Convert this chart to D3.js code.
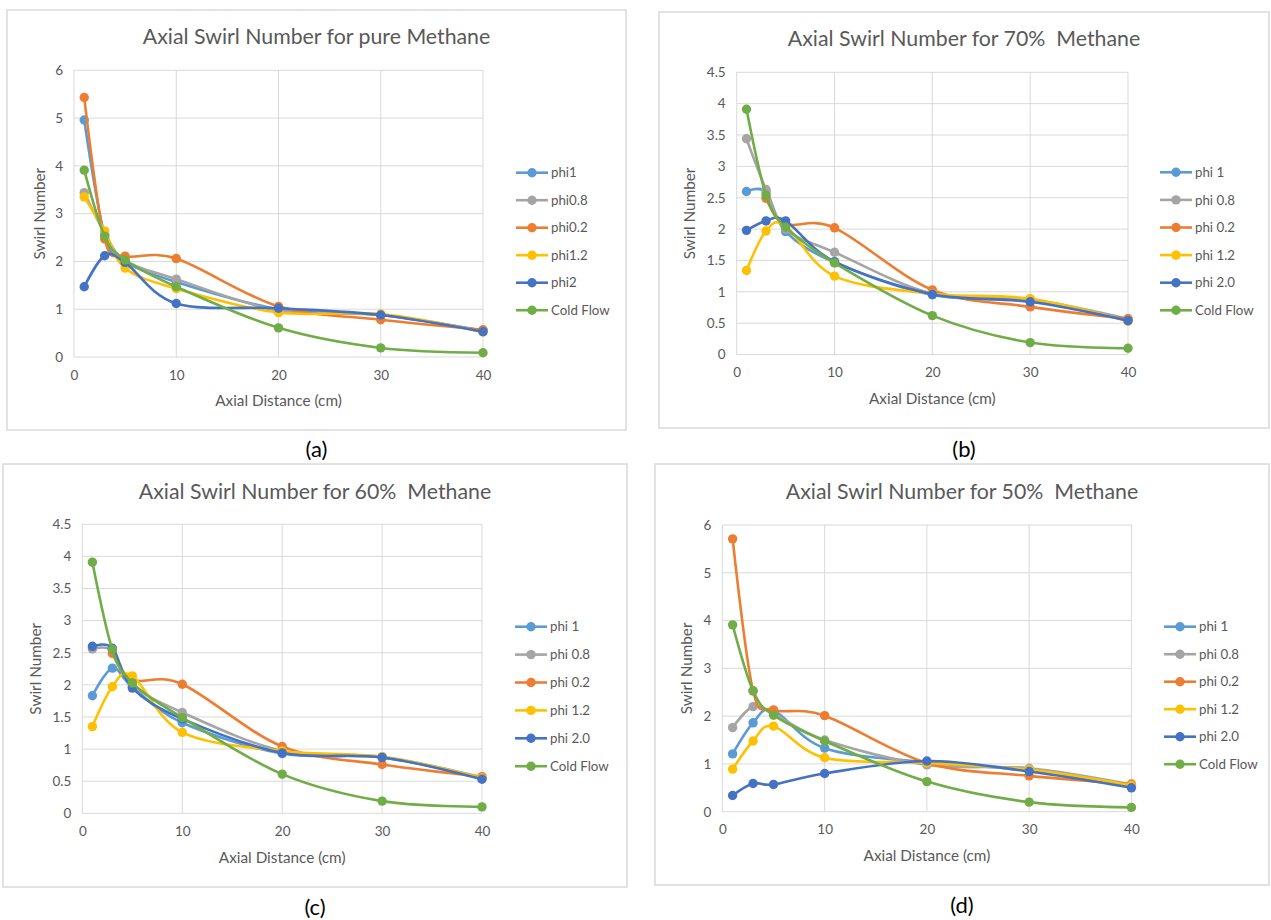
<!DOCTYPE html>
<html><head><meta charset="utf-8">
<script src="https://cdn.jsdelivr.net/npm/d3@7"></script>
<style>
body{margin:0;background:#fff}
svg{display:block}
text{font-family:Lato,"Open Sans",sans-serif;white-space:pre}
</style>
</head><body>
<svg id="chart" width="1271" height="920"></svg>
<script>
// ---------- data ----------
const xValues = [1, 3, 5, 10, 20, 30, 40];
const xTicks = [0, 10, 20, 30, 40];
const yTicks6 = [0, 1, 2, 3, 4, 5, 6];
const yTicks45 = [0, 0.5, 1, 1.5, 2, 2.5, 3, 3.5, 4, 4.5];
const legendNamesA = ["phi1", "phi0.8", "phi0.2", "phi1.2", "phi2", "Cold Flow"];
const legendNamesBCD = ["phi 1", "phi 0.8", "phi 0.2", "phi 1.2", "phi 2.0", "Cold Flow"];
const titles = ["Axial Swirl Number for pure Methane", "Axial Swirl Number for 70%  Methane",
                "Axial Swirl Number for 60%  Methane", "Axial Swirl Number for 50%  Methane"];
const captions = ["(a)", "(b)", "(c)", "(d)"];
const xAxisTitle = "Axial Distance (cm)";
const yAxisTitle = "Swirl Number";

// (a) pure methane
const a_phi1   = [4.96, 2.55, 2.00, 1.57, 1.00, 0.88, 0.55];
const a_phi08  = [3.44, 2.60, 2.02, 1.63, 0.97, 0.88, 0.55];
const a_phi02  = [5.43, 2.47, 2.11, 2.06, 1.06, 0.78, 0.57];
const a_phi12  = [3.35, 2.64, 1.86, 1.43, 0.93, 0.90, 0.52];
const a_phi2   = [1.47, 2.12, 1.98, 1.12, 1.02, 0.88, 0.53];
const a_cold   = [3.91, 2.53, 2.03, 1.47, 0.61, 0.19, 0.09];
// (b) 70% methane
const b_phi1   = [2.60, 2.59, 1.96, 1.47, 0.95, 0.85, 0.55];
const b_phi08  = [3.44, 2.63, 2.00, 1.63, 0.97, 0.88, 0.57];
const b_phi02  = [null, 2.49, 2.08, 2.02, 1.03, 0.76, 0.57];
const b_phi12  = [1.34, 1.97, 2.05, 1.25, 0.97, 0.89, 0.53];
const b_phi20  = [1.98, 2.13, 2.13, 1.48, 0.96, 0.84, 0.54];
const b_cold   = [3.91, 2.54, 2.03, 1.46, 0.62, 0.19, 0.10];
// (c) 60% methane
const c_phi1   = [1.83, 2.26, 1.97, 1.41, 0.93, 0.87, 0.55];
const c_phi08  = [2.56, 2.53, 2.00, 1.57, 0.97, 0.88, 0.56];
const c_phi02  = [null, 2.49, 2.08, 2.01, 1.04, 0.76, 0.57];
const c_phi12  = [1.35, 1.97, 2.14, 1.26, 0.97, 0.88, 0.55];
const c_phi20  = [2.60, 2.57, 1.95, 1.47, 0.94, 0.87, 0.53];
const c_cold   = [3.91, 2.55, 2.03, 1.49, 0.61, 0.19, 0.10];
// (d) 50% methane
const d_phi1   = [1.21, 1.86, 2.12, 1.33, 1.03, 0.87, 0.55];
const d_phi08  = [1.76, 2.20, 2.05, 1.50, 0.98, 0.91, 0.57];
const d_phi02  = [5.71, 2.53, 2.13, 2.01, 1.02, 0.75, 0.58];
const d_phi12  = [0.89, 1.48, 1.79, 1.13, 1.02, 0.88, 0.55];
const d_phi20  = [0.34, 0.59, 0.57, 0.80, 1.06, 0.84, 0.50];
const d_cold   = [3.91, 2.53, 2.02, 1.48, 0.63, 0.20, 0.09];

// ---------- styles / layout ----------
const seriesColors = ["#5B9BD5", "#A5A5A5", "#ED7D31", "#FFC000", "#4472C4", "#70AD47"];
const panels = [
  {series:[a_phi1,a_phi08,a_phi02,a_phi12,a_phi2,a_cold], names:legendNamesA, yMax:6, yTicks:yTicks6,
   box:[7,10,626,430], plot:[74,70.3,483,357], titleY:37, yTitleX:40, legX:516, legY:172.7, legStep:27.5, capY:449},
  {series:[b_phi1,b_phi08,b_phi02,b_phi12,b_phi20,b_cold], names:legendNamesBCD, yMax:4.5, yTicks:yTicks45,
   box:[659,12,1269,428], plot:[736.7,72.3,1128,354.5], titleY:38.3, yTitleX:690, legX:1160, legY:172.3, legStep:27.6, capY:449},
  {series:[c_phi1,c_phi08,c_phi02,c_phi12,c_phi20,c_cold], names:legendNamesBCD, yMax:4.5, yTicks:yTicks45,
   box:[3,464,627,887], plot:[82.4,524.3,482,813.3], titleY:491.7, yTitleX:36, legX:515, legY:626.7, legStep:27.9, capY:907},
  {series:[d_phi1,d_phi08,d_phi02,d_phi12,d_phi20,d_cold], names:legendNamesBCD, yMax:6, yTicks:yTicks6,
   box:[655,464,1269,885], plot:[722.4,525,1131.4,811.7], titleY:491.7, yTitleX:687, legX:1164, legY:626.7, legStep:27.5, capY:905}
];

const svg = d3.select("#chart");
const textCol = "#595959", gridCol = "#d9d9d9";

panels.forEach((p, pi) => {
  const [bx0, by0, bx1, by1] = p.box;
  const [px0, py0, px1, py1] = p.plot;
  const g = svg.append("g");
  g.append("rect").attr("x", bx0).attr("y", by0).attr("width", bx1 - bx0).attr("height", by1 - by0)
    .attr("fill", "#fff").attr("stroke", "#d9d9d9").attr("stroke-width", 1.5);

  const x = d3.scaleLinear().domain([0, 40]).range([px0, px1]);
  const y = d3.scaleLinear().domain([0, p.yMax]).range([py1, py0]);

  // gridlines
  g.append("g").selectAll("line").data(p.yTicks).join("line")
    .attr("x1", px0).attr("x2", px1).attr("y1", d => y(d)).attr("y2", d => y(d))
    .attr("stroke", gridCol).attr("stroke-width", 1);
  g.append("g").selectAll("line").data(xTicks).join("line")
    .attr("x1", d => x(d)).attr("x2", d => x(d)).attr("y1", py0).attr("y2", py1)
    .attr("stroke", gridCol).attr("stroke-width", 1);

  // axes labels via d3 axes
  const yAxis = d3.axisLeft(y).tickValues(p.yTicks).tickSize(0).tickPadding(11)
    .tickFormat(d => String(d));
  const ya = g.append("g").attr("transform", `translate(${px0},0)`).call(yAxis);
  ya.select(".domain").remove();
  ya.selectAll("text").attr("fill", textCol).style("font-size", "13.5px").style("font-family", "Lato");

  const xAxis = d3.axisBottom(x).tickValues(xTicks).tickSize(0).tickPadding(13);
  const xa = g.append("g").attr("transform", `translate(0,${py1})`).call(xAxis);
  xa.select(".domain").remove();
  xa.selectAll("text").attr("fill", textCol).style("font-size", "13.5px").style("font-family", "Lato");

  // titles
  g.append("text").attr("x", (bx0 + bx1) / 2).attr("y", p.titleY).attr("dy", "0.35em")
    .attr("text-anchor", "middle").attr("fill", textCol).style("font-size", "21.3px").text(titles[pi]);
  g.append("text").attr("x", (px0 + px1) / 2).attr("y", py1 + 44).attr("dy", "0.35em")
    .attr("text-anchor", "middle").attr("fill", textCol).style("font-size", "15.3px").text(xAxisTitle);
  g.append("text").attr("transform", `translate(${p.yTitleX},${(py0 + py1) / 2}) rotate(-90)`).attr("dy", "0.35em")
    .attr("text-anchor", "middle").attr("fill", textCol).style("font-size", "15.3px").text(yAxisTitle);

  // series
  const line = d3.line().defined(d => d[1] != null).x(d => x(d[0])).y(d => y(d[1]))
    .curve(d3.curveCatmullRom.alpha(0));
  p.series.forEach((vals, si) => {
    const pts = xValues.map((xv, i) => [xv, vals[i]]);
    const sg = g.append("g");
    sg.append("path").datum(pts).attr("d", line).attr("fill", "none")
      .attr("stroke", seriesColors[si]).attr("stroke-width", 2.6).attr("stroke-linejoin", "round");
    sg.selectAll("circle").data(pts.filter(d => d[1] != null)).join("circle")
      .attr("cx", d => x(d[0])).attr("cy", d => y(d[1])).attr("r", 4.7).attr("fill", seriesColors[si]);
  });

  // legend
  p.names.forEach((name, si) => {
    const ly = p.legY + si * p.legStep;
    const lg = g.append("g");
    lg.append("line").attr("x1", p.legX).attr("x2", p.legX + 32).attr("y1", ly).attr("y2", ly)
      .attr("stroke", seriesColors[si]).attr("stroke-width", 2.6);
    lg.append("circle").attr("cx", p.legX + 16).attr("cy", ly).attr("r", 4.7).attr("fill", seriesColors[si]);
    lg.append("text").attr("x", p.legX + 35).attr("y", ly).attr("dy", "0.35em")
      .attr("fill", textCol).style("font-size", "13.3px").text(name);
  });

  // caption
  svg.append("text").attr("x", (bx0 + bx1) / 2).attr("y", p.capY).attr("dy", "0.35em")
    .attr("text-anchor", "middle").attr("fill", "#000").style("font-size", "22px").text(captions[pi]);
});
</script>
</body></html>
